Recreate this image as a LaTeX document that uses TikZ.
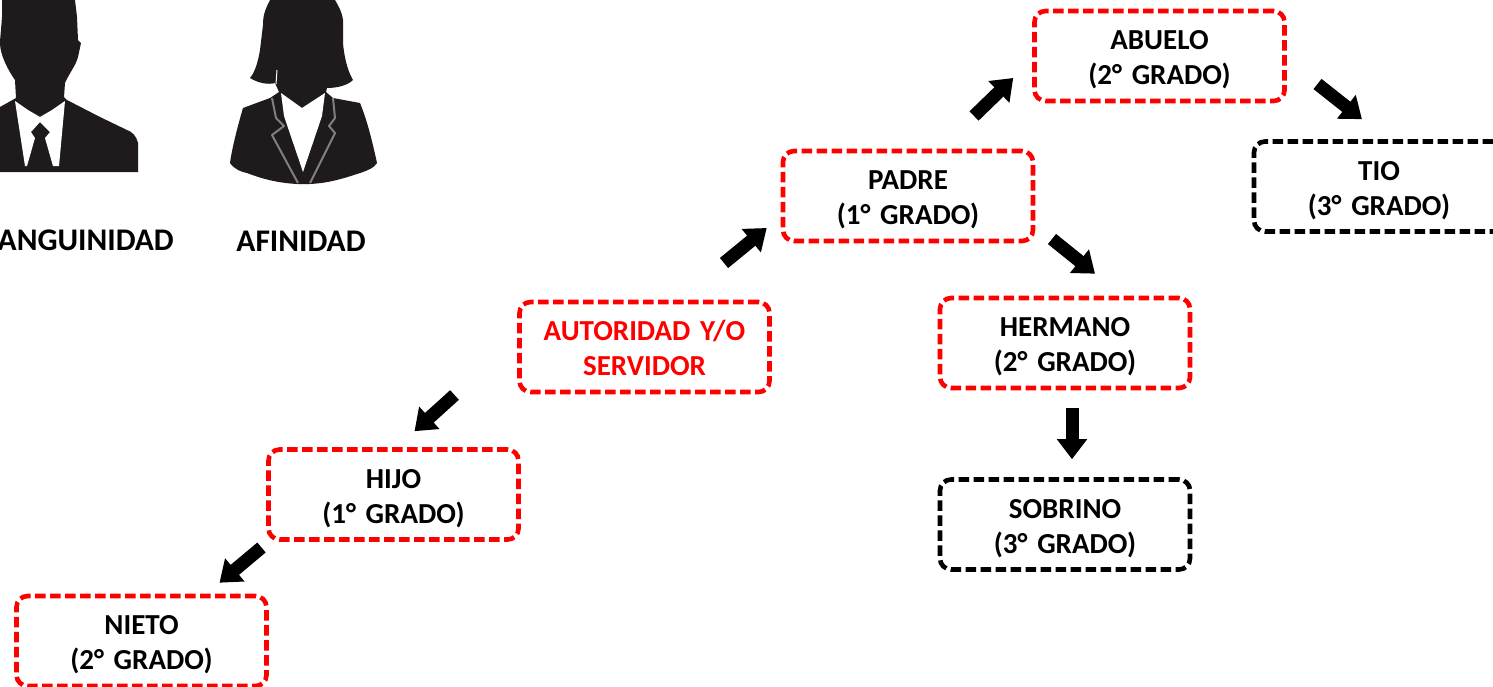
\documentclass[tikz,border=0pt]{standalone}
\usepackage{fontspec}
\setmainfont{Carlito}
\usetikzlibrary{arrows.meta}
\definecolor{sil}{HTML}{1F1B1C}
\newcommand{\twolines}[2]{\rule{0pt}{30pt}#1\\#2\rule[-8pt]{0pt}{8pt}}
\tikzset{
  x=1pt,y=-1pt,
  kin/.style={rectangle,rounded corners=11pt,dashed,dash pattern=on 10.5pt off 4.5pt,line width=4.6pt,
    minimum width=250pt,minimum height=90pt,inner sep=0pt,align=center,text width=245pt,
    font=\fontsize{29}{35}\selectfont\bfseries},
  redbox/.style={kin,draw=red},
  blackbox/.style={kin,draw=black},
  blockarrow/.style={line width=13pt,draw=black,-{Triangle[width=29pt,length=20pt]}},
  caption/.style={font=\fontsize{31.5}{35}\selectfont\bfseries,inner sep=0pt},
  silhouette/.style={fill=sil,draw=none},
}
\begin{document}
\begin{tikzpicture}
\useasboundingbox (0,0) rectangle (1493,686);
% man
\fill[silhouette] (2,0) -- (2,17) .. controls (1,30) and (0,40) .. (0,43) .. controls (0,55) and (8,70) .. (15,80) -- (16,98)
  -- (0,107) -- (0,172) -- (138,172) -- (138,143) .. controls (136,135) and (132,132) .. (127,130) -- (100,117) -- (67,100) -- (64,97) -- (65,83)
  .. controls (70,72) and (76,65) .. (78,57) -- (81,43) -- (78,40) -- (77,17) -- (75,0) -- cycle;
\fill[white] (15,101) -- (28,110) -- (40,117) -- (52,110) -- (65,101) -- (59,166) -- (53,166) -- (45,138) -- (50,132) -- (40,122) -- (31,132) -- (35,138) -- (27,166) -- (25,166) -- cycle;
% woman
\fill[silhouette] (270,0) .. controls (265,10) and (263,15) .. (263,25) -- (260,50) .. controls (258,62) and (255,72) .. (250,78)
  .. controls (258,83) and (268,85) .. (275,83) -- (279,92) -- (270,98) -- (243,108) .. controls (238,125) and (232,148) .. (230,163)
  .. controls (235,170) and (242,172) .. (247,173) .. controls (265,180) and (280,183) .. (297,184) -- (310,184)
  .. controls (330,183) and (345,178) .. (363,172) .. controls (368,170) and (374,168) .. (377,163)
  .. controls (372,140) and (367,120) .. (360,103) -- (333,98) -- (326,92) -- (327,88) .. controls (338,88) and (348,85) .. (353,80)
  .. controls (347,70) and (344,55) .. (343,43) -- (343,20) .. controls (342,12) and (338,5) .. (335,0) -- cycle;
\fill[white] (281,93) -- (302,108) -- (325,93) -- (322,116) -- (303,172) -- (284,116) -- cycle;
\draw[white,line width=1pt] (277,70) -- (276,84);
\draw[gray,line width=2pt,line join=round] (272,98) -- (276,118) -- (284,126) -- (272,135) -- (298,183);
\draw[gray,line width=2pt,line join=round] (333,98) -- (335,118) -- (329,126) -- (335,133) -- (310,183);
\node[caption,anchor=east] (cons) at (174,240) {ANGUINIDAD};
\node[caption,anchor=center] (afin) at (301,241) {AFINIDAD};
% boxes
\node[redbox] (abuelo) at (1159.5,56) {\twolines{ABUELO}{(2° GRADO)}};
\node[redbox] (padre) at (908,196) {\twolines{PADRE}{(1° GRADO)}};
\node[blackbox] (tio) at (1379,186.5) {\twolines{TIO}{(3° GRADO)}};
\node[redbox] (hermano) at (1065,343) {\twolines{HERMANO}{(2° GRADO)}};
\node[blackbox] (sobrino) at (1065,524.5) {\twolines{SOBRINO}{(3° GRADO)}};
\node[redbox,text=red] (autoridad) at (644.5,347) {\twolines{AUTORIDAD Y/O}{SERVIDOR}};
\node[redbox] (hijo) at (393.5,494.5) {\twolines{HIJO}{(1° GRADO)}};
\node[redbox] (nieto) at (141.5,641) {\twolines{NIETO}{(2° GRADO)}};
% arrows
\draw[blockarrow] ([shift={(79.5,-84)}]autoridad.center) -- ([shift={(-14,32)}]padre.west);
\draw[blockarrow] ([shift={(66,-80)}]padre.center) -- ([shift={(-19,22)}]abuelo.west);
\draw[blockarrow] ([shift={(144,43)}]padre.center) -- ([shift={(30,-22)}]hermano.north);
\draw[blockarrow] ([shift={(158,28)}]abuelo.center) -- ([shift={(-17,-20)}]tio.north);
\draw[blockarrow] ([shift={(7,18)}]hermano.south) -- ([shift={(7,-18)}]sobrino.north);
\draw[blockarrow] ([shift={(-190,48)}]autoridad.center) -- ([shift={(21,-16)}]hijo.north);
\draw[blockarrow] ([shift={(-132,53)}]hijo.center) -- ([shift={(78,-11)}]nieto.north);
\end{tikzpicture}
\end{document}
